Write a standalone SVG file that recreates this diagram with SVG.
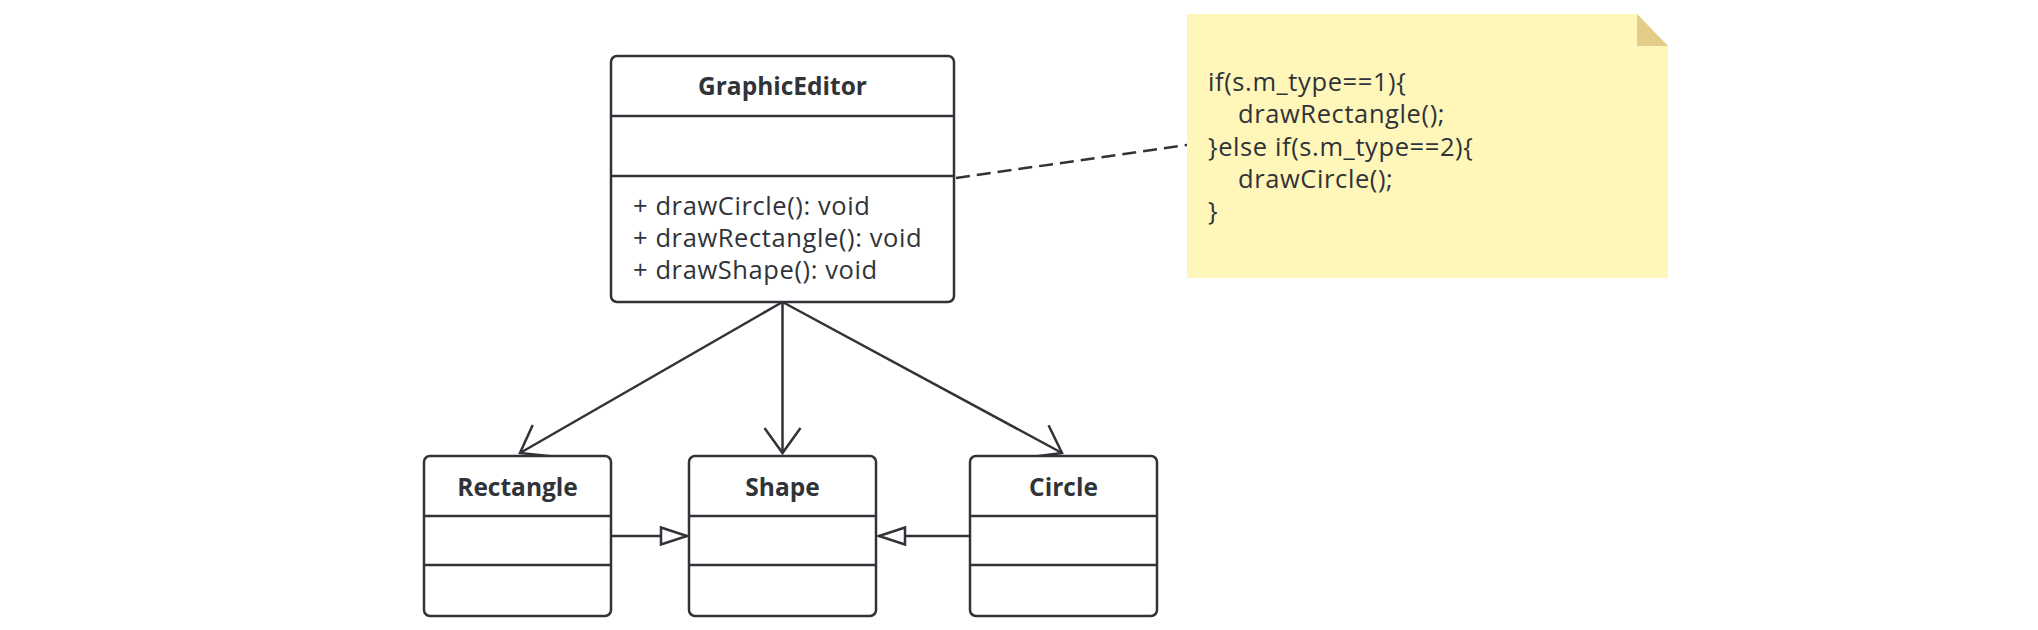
<svg xmlns="http://www.w3.org/2000/svg" width="2038" height="630" viewBox="0 0 2038 630">
<style>
.box{fill:#ffffff;stroke:#303338;stroke-width:2.5}
.div{stroke:#303338;stroke-width:2.5}
.title{font-family:"Open Sans","Noto Sans","Liberation Sans",sans-serif;font-weight:bold;font-size:24.5px;fill:#303338;text-anchor:middle}
.txt{font-family:"Open Sans","Noto Sans","Liberation Sans",sans-serif;font-size:25.5px;letter-spacing:0.6px;fill:#303338}
.edge{fill:none;stroke:#303338;stroke-width:2.5}
</style>
<defs>
<marker id="open" markerUnits="userSpaceOnUse" markerWidth="40" markerHeight="40" refX="0" refY="0" viewBox="-30 -20 32 40" orient="auto" overflow="visible">
<path d="M-25,-18 L0,0 L-25,18" fill="none" stroke="#303338" stroke-width="2.5"/>
</marker>
<marker id="tri" markerUnits="userSpaceOnUse" markerWidth="40" markerHeight="40" refX="0" refY="0" viewBox="-30 -20 32 40" orient="auto" overflow="visible">
<path d="M-26,-8.5 L0,0 L-26,8.5 Z" fill="#ffffff" stroke="#303338" stroke-width="2.5"/>
</marker>
</defs>
<rect width="2038" height="630" fill="#ffffff"/>
<g id="connectors">
<path class="edge" d="M782.5,302 L520,453" marker-end="url(#open)"/>
<path class="edge" d="M782.5,302 L782.5,453" marker-end="url(#open)"/>
<path class="edge" d="M782.5,302 L1062,453" marker-end="url(#open)"/>
<path class="edge" d="M611,536 L687,536" marker-end="url(#tri)"/>
<path class="edge" d="M970,536 L879,536" marker-end="url(#tri)"/>
<path class="edge" d="M956,178 L1187,145" stroke-dasharray="14 7" stroke-width="3"/>
</g>
<g id="GraphicEditor">
<rect class="box" x="611" y="56" width="343" height="246" rx="6"/>
<line class="div" x1="611" y1="116" x2="954" y2="116"/>
<line class="div" x1="611" y1="176" x2="954" y2="176"/>
<text class="title" x="782.5" y="95">GraphicEditor</text>
<text class="txt" x="633" y="215">+ drawCircle(): void</text>
<text class="txt" x="633" y="247">+ drawRectangle(): void</text>
<text class="txt" x="633" y="278.5">+ drawShape(): void</text>
</g>
<g id="Rectangle">
<rect class="box" x="424" y="456" width="187" height="160" rx="6"/>
<line class="div" x1="424" y1="516" x2="611" y2="516"/>
<line class="div" x1="424" y1="565" x2="611" y2="565"/>
<text class="title" x="517.5" y="496">Rectangle</text>
</g>
<g id="Shape">
<rect class="box" x="689" y="456" width="187" height="160" rx="6"/>
<line class="div" x1="689" y1="516" x2="876" y2="516"/>
<line class="div" x1="689" y1="565" x2="876" y2="565"/>
<text class="title" x="782.5" y="496">Shape</text>
</g>
<g id="Circle">
<rect class="box" x="970" y="456" width="187" height="160" rx="6"/>
<line class="div" x1="970" y1="516" x2="1157" y2="516"/>
<line class="div" x1="970" y1="565" x2="1157" y2="565"/>
<text class="title" x="1063.5" y="496">Circle</text>
</g>
<g id="Note">
<path d="M1187,14 L1637,14 L1668,46 L1668,278 L1187,278 Z" fill="#fff6ba"/>
<path d="M1637,14 L1668,46 L1637,46 Z" fill="#e3cd88"/>
<text class="txt" x="1208" y="91">if(s.m_type==1){</text>
<text class="txt" x="1238" y="123">drawRectangle();</text>
<text class="txt" x="1208" y="156">}else if(s.m_type==2){</text>
<text class="txt" x="1238" y="188">drawCircle();</text>
<text class="txt" x="1208" y="220">}</text>
</g>
</svg>
